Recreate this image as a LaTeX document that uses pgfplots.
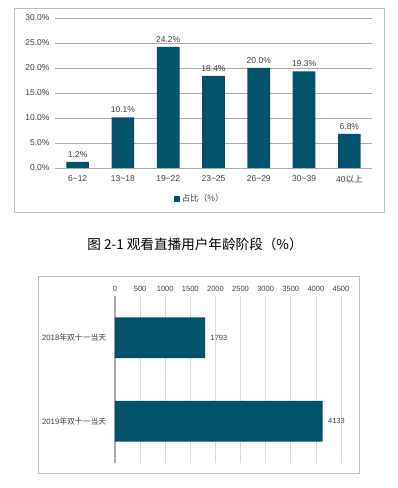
\documentclass[border=0pt]{standalone}
\usepackage{pgfplots}
\pgfplotsset{compat=1.18}
\usepackage{fontspec}
\setmainfont{Liberation Sans}
\newfontfamily\cjk{Noto Sans CJK SC}
\definecolor{barc}{RGB}{1,83,108}
\definecolor{txt}{RGB}{64,64,64}
\definecolor{gridc}{RGB}{170,170,170}
\definecolor{gridl}{RGB}{217,217,217}
\definecolor{framec}{RGB}{191,191,191}
\begin{document}
\begin{tikzpicture}
\path[use as bounding box, fill=white] (0pt,0pt) rectangle (397pt,488pt);
\draw[framec, line width=0.9pt] (14pt,480pt) rectangle (384pt,276pt);
\begin{axis}[at={(55pt,320pt)}, anchor=south west, scale only axis,
  width=317pt, height=150pt,
  xmin=-0.5, xmax=6.5, ymin=0, ymax=30, ytick={0,5,...,30},
  xtick={0,...,6},
  xticklabels={6\textasciitilde12,13\textasciitilde18,19\textasciitilde22,23\textasciitilde25,26\textasciitilde29,30\textasciitilde39,{40\cjk 以上}},
  yticklabel={\pgfmathprintnumber[fixed,fixed zerofill,precision=1]{\tick}\%},
  /pgf/number format/assume math mode=true,
  axis line style={draw=none}, tick style={draw=none},
  ymajorgrids, major grid style={gridc, line width=0.6pt},
  ticklabel style={font=\fontsize{8.5}{10}\selectfont, text=txt},
  yticklabel style={xshift=-2pt},
  ybar, bar width=0.5,
  nodes near coords={\pgfmathprintnumber[fixed,fixed zerofill,precision=1]{\pgfplotspointmeta}\%},
  nodes near coords style={font=\fontsize{8.5}{10}\selectfont, text=txt, yshift=1pt},
  legend style={at={(0.457,-0.207)}, anchor=center, draw=none, fill=none,
    font=\fontsize{8.5}{10}\selectfont\color{txt}, legend cell align=left},
  legend image code/.code={\fill[barc] (0pt,-2.8pt) rectangle (5.6pt,2.8pt);},
  clip=false]
\addplot[fill=barc, draw=none] coordinates {(0,1.2) (1,10.1) (2,24.2) (3,18.4) (4,20.0) (5,19.3) (6,6.8)};
\addlegendentry{\cjk 占比（\%）}
\end{axis}
\node[font=\cjk\fontsize{13.6}{15}\selectfont, text=black] at (195pt,244pt) {图 2-1 观看直播用户年龄阶段（\%）};
\draw[framec, line width=0.9pt] (38pt,212pt) rectangle (359pt,15pt);
\begin{axis}[at={(115pt,25pt)}, anchor=south west, scale only axis,
  width=226pt, height=167pt,
  xmin=0, xmax=4500, ymin=-0.5, ymax=1.5,
  xtick={0,500,...,4500},
  ytick={0,1}, yticklabels={{2019\cjk 年双十一当天},{2018\cjk 年双十一当天}},
  xticklabel pos=top,
  /pgf/number format/assume math mode=true,
  /pgf/number format/1000 sep={},
  axis line style={draw=none}, tick style={draw=none},
  xmajorgrids, major grid style={gridl, line width=0.6pt},
  extra x ticks={0}, extra x tick labels={},
  extra x tick style={major grid style={draw=gridc, line width=1.1pt}},
  xticklabel style={font=\fontsize{7.5}{9}\selectfont, text=txt, yshift=1pt},
  yticklabel style={font=\fontsize{7.8}{9}\selectfont, text=txt, xshift=-1pt},
  xbar, bar width=0.49,
  nodes near coords,
  nodes near coords style={font=\fontsize{7.5}{9}\selectfont, text=txt, xshift=2pt},
  clip=false]
\addplot[fill=barc, draw=none] coordinates {(4133,0) (1793,1)};
\end{axis}
\end{tikzpicture}
\end{document}
